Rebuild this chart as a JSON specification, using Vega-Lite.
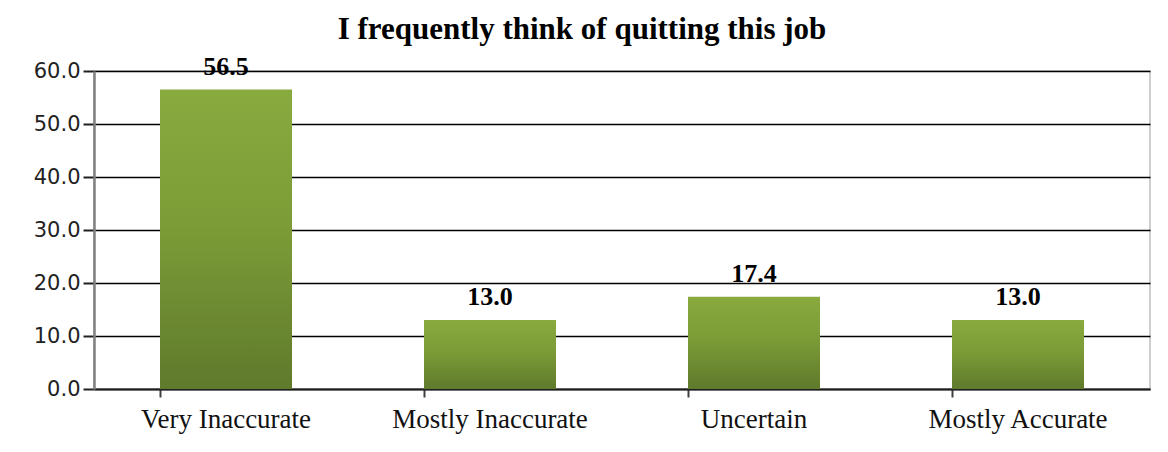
{
  "$schema": "https://vega.github.io/schema/vega-lite/v6.json",
  "width": 1056,
  "height": 318,
  "autosize": "none",
  "padding": {"left": 94, "top": 71, "right": 18, "bottom": 63},
  "background": "white",
  "title": {
    "text": "I frequently think of quitting this job",
    "font": "Liberation Serif",
    "fontSize": 31,
    "fontWeight": "bold",
    "color": "#000000",
    "anchor": "middle",
    "frame": "group",
    "baseline": "alphabetic",
    "dx": -40,
    "offset": -16
  },
  "data": {
    "values": [
      {"response": "Very Inaccurate", "pct": 56.5},
      {"response": "Mostly Inaccurate", "pct": 13.0},
      {"response": "Uncertain", "pct": 17.4},
      {"response": "Mostly Accurate", "pct": 13.0}
    ]
  },
  "encoding": {
    "x": {
      "field": "response",
      "type": "nominal",
      "sort": null,
      "title": null,
      "scale": {"paddingInner": 0.5, "paddingOuter": 0.25},
      "axis": {
        "labelAngle": 0,
        "labelLimit": 0,
        "labelFont": "Liberation Serif",
        "labelFontSize": 27,
        "labelColor": "#111111",
        "labelBaseline": "alphabetic",
        "labelPadding": 30,
        "tickSize": 8,
        "tickWidth": 2,
        "tickColor": "#404040",
        "bandPosition": 0,
        "domainColor": "#202020",
        "domainWidth": 2
      }
    },
    "y": {
      "field": "pct",
      "type": "quantitative",
      "title": null,
      "scale": {"domain": [0, 60], "nice": false},
      "axis": {
        "values": [0, 10, 20, 30, 40, 50, 60],
        "format": ".1f",
        "labelFont": "DejaVu Sans",
        "labelFontSize": 21,
        "labelColor": "#222222",
        "labelPadding": 3,
        "tickSize": 11,
        "tickWidth": 2,
        "tickColor": "#202020",
        "domainColor": "#808080",
        "domainWidth": 2.5,
        "grid": true,
        "gridColor": "#000000",
        "gridWidth": 1.5
      }
    }
  },
  "layer": [
    {
      "mark": {
        "type": "bar",
        "color": {
          "gradient": "linear",
          "x1": 0, "y1": 0, "x2": 0, "y2": 1,
          "stops": [
            {"offset": 0, "color": "#88aa3e"},
            {"offset": 0.45, "color": "#7c9c37"},
            {"offset": 1, "color": "#5f7a2c"}
          ]
        }
      }
    },
    {
      "mark": {
        "type": "text",
        "font": "Liberation Serif",
        "fontSize": 26,
        "fontWeight": "bold",
        "color": "#000000",
        "baseline": "alphabetic",
        "dy": -15
      },
      "encoding": {
        "text": {"field": "pct", "type": "quantitative", "format": ".1f"}
      }
    }
  ],
  "config": {
    "view": {"stroke": "#bfbfbf", "strokeWidth": 1.5}
  }
}
